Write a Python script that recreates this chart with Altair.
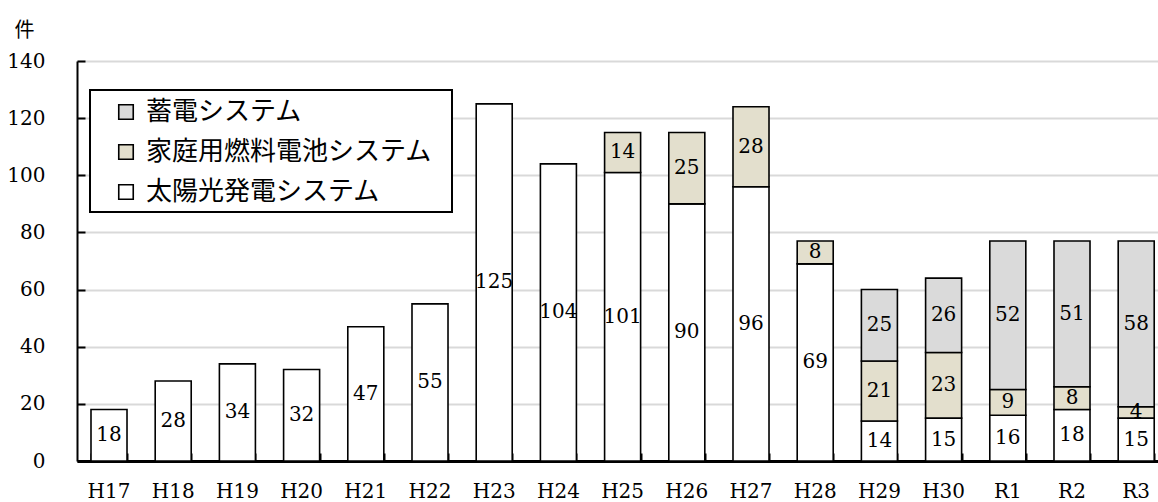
import altair as alt
import pandas as pd

years = ["H17", "H18", "H19", "H20", "H21", "H22", "H23", "H24", "H25",
         "H26", "H27", "H28", "H29", "H30", "R1", "R2", "R3"]
solar = [18, 28, 34, 32, 47, 55, 125, 104, 101, 90, 96, 69, 14, 15, 16, 18, 15]
fuel = [0, 0, 0, 0, 0, 0, 0, 0, 14, 25, 28, 8, 21, 23, 9, 8, 4]
storage = [0, 0, 0, 0, 0, 0, 0, 0, 0, 0, 0, 0, 25, 26, 52, 51, 58]
series = ["蓄電システム", "家庭用燃料電池システム", "太陽光発電システム"]
colors = ["#dadada", "#e3dfcd", "#ffffff"]

rows = []
for i, y in enumerate(years):
    base = 0
    for name, vals in ((series[2], solar), (series[1], fuel), (series[0], storage)):
        v = vals[i]
        if v > 0:
            rows.append({"year": y, "series": name, "value": v,
                         "base": base, "top": base + v, "mid": base + v / 2})
            base += v
df = pd.DataFrame(rows)

xscale = alt.Scale(domain=years, paddingInner=0.439, paddingOuter=0.1385, align=0.787)
yscale = alt.Scale(domain=[0, 140])

bars = alt.Chart(df).mark_bar(stroke="black", strokeWidth=1.6).encode(
    x=alt.X("year:N", scale=xscale, sort=years,
            axis=alt.Axis(title=None, labelAngle=0, ticks=False, tickSize=0,
                          domainColor="black", domainWidth=3,
                          labelFont="DejaVu Serif", labelFontSize=20,
                          labelColor="black", labelPadding=20, grid=False)),
    y=alt.Y("base:Q", scale=yscale,
            axis=alt.Axis(title="件", titleAngle=0, titleAlign="center",
                          titleBaseline="middle", titleX=-53, titleY=-31,
                          titleFont="Noto Sans CJK JP", titleFontSize=20,
                          titleFontWeight="normal", titleColor="black",
                          values=[0, 20, 40, 60, 80, 100, 120, 140],
                          ticks=False, tickSize=0, domainColor="black",
                          domainWidth=2, gridColor="#d9d9d9", gridWidth=2,
                          labelFont="DejaVu Serif", labelFontSize=20,
                          labelColor="black", labelPadding=32)),
    y2="top:Q",
    color=alt.Color("series:N",
                    scale=alt.Scale(domain=series, range=colors),
                    legend=alt.Legend(title=None, orient="none",
                                      legendX=36, legendY=38,
                                      symbolType="square", symbolSize=210,
                                      symbolStrokeColor="black",
                                      symbolStrokeWidth=1.6,
                                      labelFont="Noto Sans CJK JP",
                                      labelFontSize=26, labelColor="black",
                                      labelOffset=7, rowPadding=14,
                                      padding=0, labelLimit=400)),
)

labels = alt.Chart(df).mark_text(font="DejaVu Serif", fontSize=20,
                                 color="black", baseline="middle").encode(
    x=alt.X("year:N", scale=xscale, sort=years, axis=None),
    y=alt.Y("mid:Q", scale=yscale, axis=None),
    text="value:Q",
)

box = alt.Chart(pd.DataFrame({"k": [0]})).mark_rect(
    fill="white", stroke="black", strokeWidth=2
).encode(x=alt.value(13), x2=alt.value(375), y=alt.value(29), y2=alt.value(151))

tickdf = pd.DataFrame({"year": years, "v": [0] * len(years)})
ticks = alt.Chart(tickdf).mark_point(opacity=0).encode(
    x=alt.X("year:N", scale=xscale, sort=years,
            axis=alt.Axis(orient="top", offset=-400, title=None, labels=False,
                          domain=False, grid=False, tickBand="extent",
                          tickSize=8, tickWidth=2, tickColor="black")),
    y=alt.Y("v:Q", scale=yscale,
            axis=alt.Axis(orient="right", offset=-1081, title=None,
                          labels=False, domain=False, grid=False,
                          values=[0, 20, 40, 60, 80, 100, 120, 140],
                          tickSize=8, tickWidth=2, tickColor="black")),
)

chart = alt.layer(bars, box, labels, ticks).resolve_axis(
    x="independent", y="independent"
).properties(
    width=1081, height=400, autosize="none",
    padding={"left": 77, "top": 61, "right": 0, "bottom": 41},
).configure_view(strokeWidth=0)

chart.save("out.html", embed_options={"renderer": "svg", "actions": False})
